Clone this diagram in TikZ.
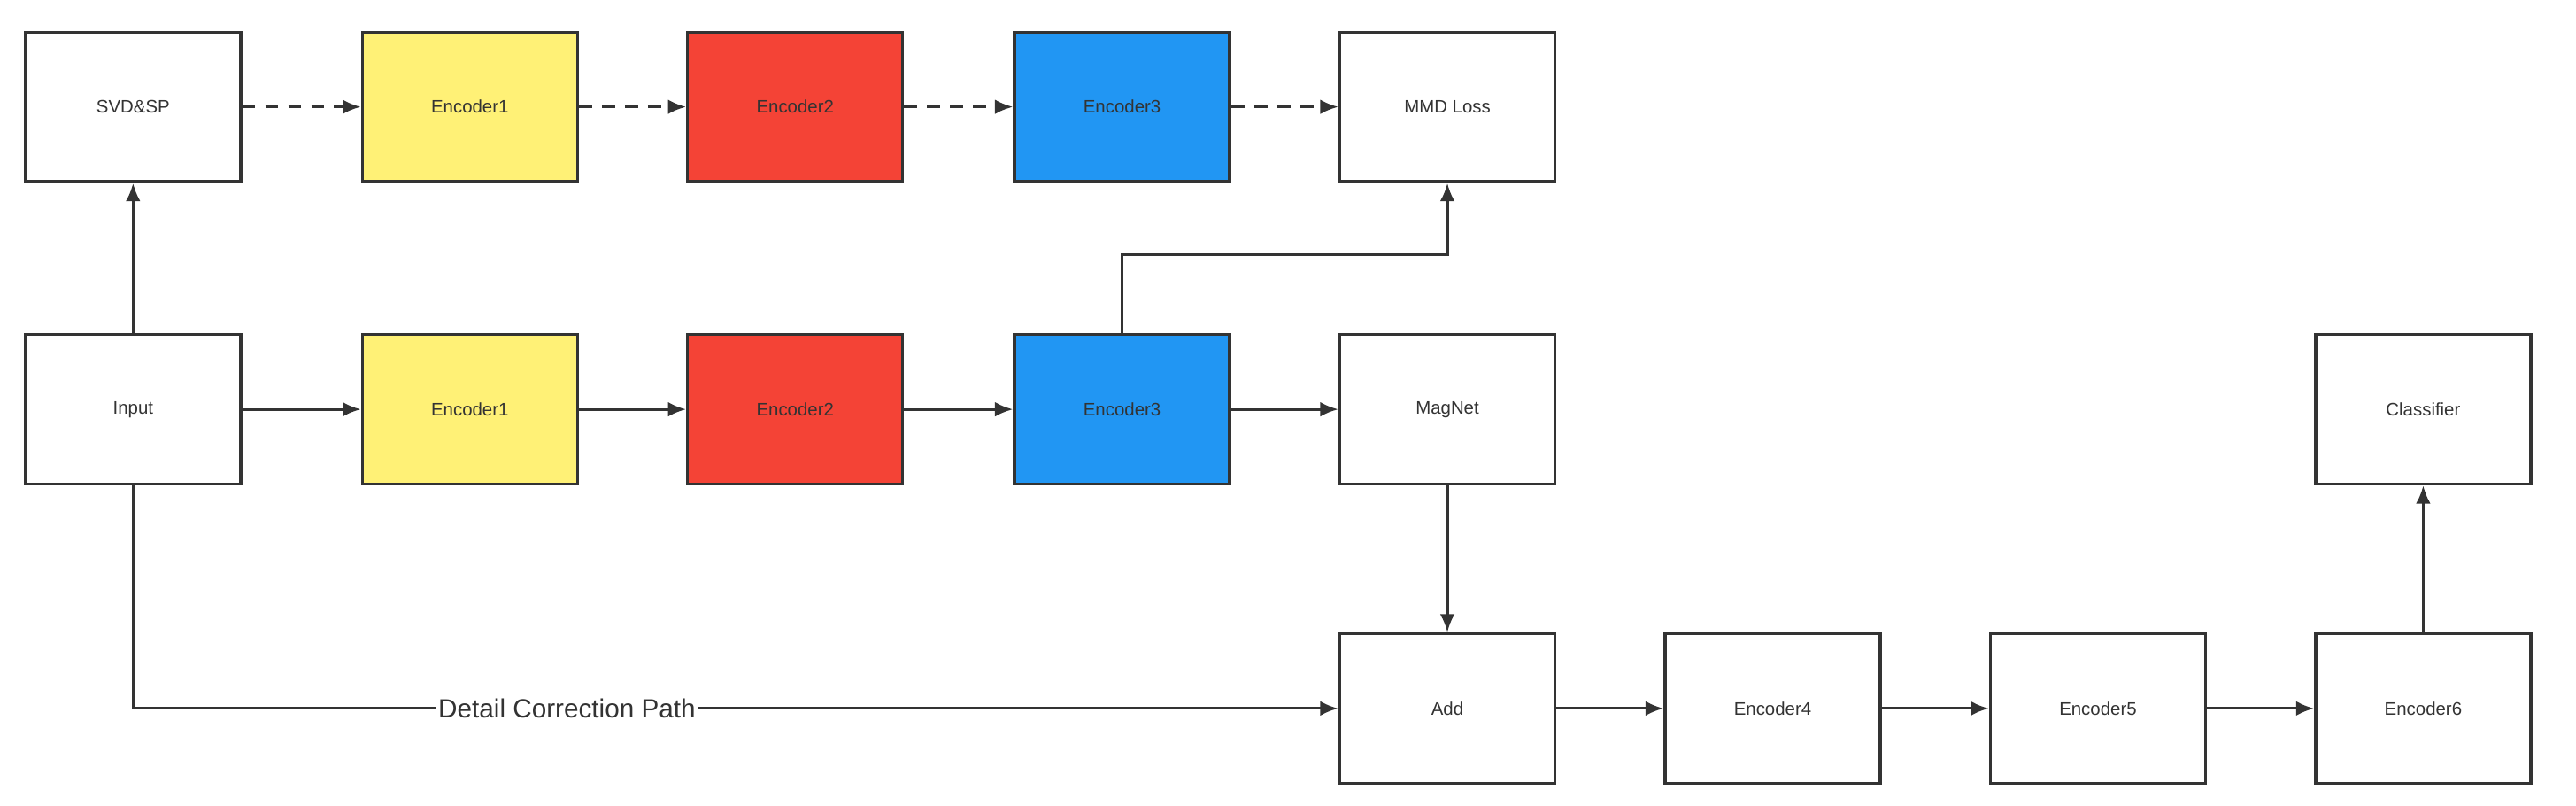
\documentclass[tikz,border=0pt]{standalone}
\usepackage{fontspec}
\setmainfont{Liberation Sans}
\usetikzlibrary{arrows.meta}
\definecolor{yel}{HTML}{FFF176}
\definecolor{rd}{HTML}{F44336}
\definecolor{bl}{HTML}{2196F3}
\definecolor{ln}{HTML}{333333}
\begin{document}
\begin{tikzpicture}[x=1pt,y=-1pt,
 box/.style={draw=ln,line width=1.8pt,minimum width=131pt,minimum height=91pt,inner sep=0pt,font=\fontsize{11}{13}\selectfont,text=ln},
 arr/.style={draw=ln,line width=1.6pt,-{Latex[length=11pt,width=9pt]}},
 darr/.style={arr,dash pattern=on 8pt off 6pt}]
\useasboundingbox (0,0) rectangle (1568,490);
\node[box] (svd) at (81,65) {SVD\&SP};
\node[box,fill=yel] (e1a) at (286,65) {Encoder1};
\node[box,fill=rd] (e2a) at (484,65) {Encoder2};
\node[box,fill=bl] (e3a) at (683,65) {Encoder3};
\node[box] (mmd) at (881,65) {MMD Loss};
\node[box] (in) at (81,249) {Input};
\node[box,fill=yel] (e1) at (286,249) {Encoder1};
\node[box,fill=rd] (e2) at (484,249) {Encoder2};
\node[box,fill=bl] (e3) at (683,249) {Encoder3};
\node[box] (mag) at (881,249) {MagNet};
\node[box] (cls) at (1475,249) {Classifier};
\node[box] (add) at (881,431) {Add};
\node[box] (e4) at (1079,431) {Encoder4};
\node[box] (e5) at (1277,431) {Encoder5};
\node[box] (e6) at (1475,431) {Encoder6};
\draw[darr] (svd) -- (e1a);
\draw[darr] (e1a) -- (e2a);
\draw[darr] (e2a) -- (e3a);
\draw[darr] (e3a) -- (mmd);
\draw[arr] (in) -- (svd);
\draw[arr] (in) -- (e1);
\draw[arr] (e1) -- (e2);
\draw[arr] (e2) -- (e3);
\draw[arr] (e3) -- (mag);
\draw[arr] (e3.north) |- (781,155) -| (mmd.south);
\draw[arr] (mag) -- (add);
\draw[arr] (in.south) |- node[pos=0.68,fill=white,inner sep=1pt,text=ln,font=\fontsize{16}{18}\selectfont]{Detail Correction Path} (add.west);
\draw[arr] (add) -- (e4);
\draw[arr] (e4) -- (e5);
\draw[arr] (e5) -- (e6);
\draw[arr] (e6) -- (cls);
\end{tikzpicture}
\end{document}
